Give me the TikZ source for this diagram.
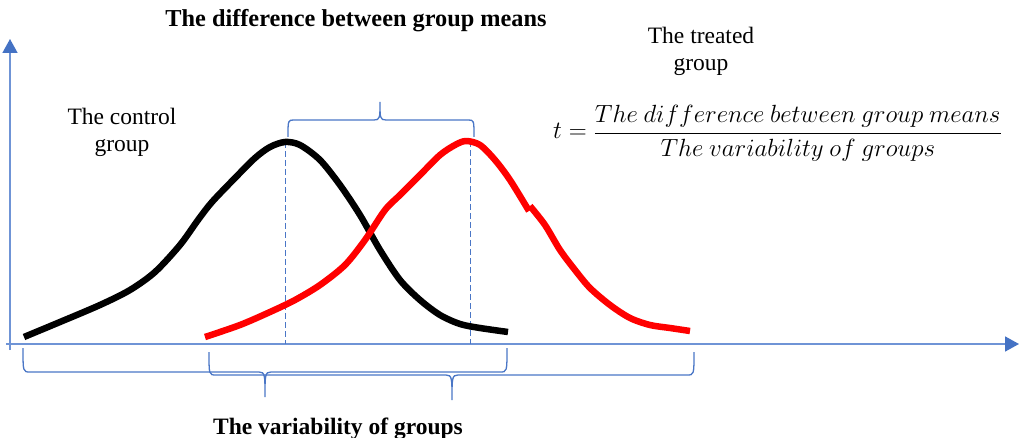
\documentclass[tikz,border=0pt]{standalone}
\usepackage{fontspec}
\setmainfont{Liberation Serif}
\usetikzlibrary{arrows.meta}
\definecolor{axisblue}{HTML}{6F94D6}
\definecolor{tipblue}{HTML}{4472C4}
\definecolor{braceblue}{HTML}{4A76C6}
\tikzset{
  axisline/.style={draw=axisblue, line width=1.6pt, -{Triangle[length=14pt,width=15pt,fill=tipblue,color=tipblue]}},
  bracepath/.style={draw=braceblue, line width=1.3pt},
  meanline/.style={draw=braceblue, line width=0.9pt, dash pattern=on 6pt off 3pt},
  curve/.style={line width=6.5pt, line join=round},
  lbl/.style={inner sep=0pt, align=center, font=\fontsize{23.5}{27}\selectfont},
  ttl/.style={inner sep=0pt, font=\fontsize{23.5}{27}\selectfont\bfseries}
}
\begin{document}
\begin{tikzpicture}[x=1pt,y=-1pt]
\useasboundingbox (0,0) rectangle (1019,438);
% axes
\coordinate (o) at (10,345);
\coordinate (ytop) at (10,39);
\coordinate (xl) at (6,344);
\coordinate (xr) at (1019,344);
\draw[axisline] (10,350) -- (ytop);
\draw[axisline] (xl) -- (xr);
% mean lines
\coordinate (m1) at (285,142);
\coordinate (m1b) at (285,344);
\coordinate (m2) at (470,141);
\coordinate (m2b) at (470,344);
\draw[meanline] (m1) -- (m1b);
\draw[meanline] (m2) -- (m2b);
% black curve
\draw[curve, black] plot[smooth, tension=0.5] coordinates {
 (24,337) (60,322) (100,305) (130,290) (155,272) (180,245) (198,220) (212,202) (235,178) (255,158) (270,147) (285,142) (300,145) (320,160) (340,185) (360,215) (380,250) (400,280) (420,300) (440,315) (460,324) (480,328) (508,332)};
% red curve
\draw[curve, red, line cap=butt] plot[smooth, tension=0.5] coordinates {
 (205,337) (240,325) (270,312) (295,300) (320,285) (345,265) (365,240) (385,210) (400,195) (420,175) (440,155) (455,145) (466,141) (480,145) (495,160) (510,180) (529,211)};
\draw[curve, red, line cap=butt] plot[smooth, tension=0.5] coordinates {
 (530,206) (545,225) (560,250) (575,270) (590,288) (610,305) (630,318) (650,325) (670,328) (690,331)};
% top brace
\draw[bracepath] (288,137) .. controls (288,120) and (288,120) .. (294,120) -- (374,120)
  .. controls (380,120) and (380,118) .. (380,102)
  .. controls (380,118) and (380,120) .. (386,120) -- (468,120)
  .. controls (474,120) and (474,120) .. (474,137);
% bottom brace 1
\draw[bracepath] (23,348) .. controls (23,372) and (23,372) .. (30,372) -- (259,372)
  .. controls (265,372) and (265,375) .. (265,397)
  .. controls (265,375) and (265,372) .. (271,372) -- (500,372)
  .. controls (507,372) and (507,372) .. (507,348);
% bottom brace 2
\draw[bracepath] (209,352) .. controls (209,375) and (209,375) .. (216,375) -- (446,375)
  .. controls (452,375) and (452,378) .. (452,400)
  .. controls (452,378) and (452,375) .. (458,375) -- (687,375)
  .. controls (694,375) and (694,375) .. (694,352);
% texts
\node[ttl, anchor=base, font=\fontsize{24.3}{27}\selectfont\bfseries] (title) at (356,27) {The difference between group means};
\node[ttl, anchor=base] (bottom) at (338,434) {The variability of groups};
\node[lbl] (control) at (122,132) {The control\\group};
\node[lbl] (treated) at (701,51) {The treated\\group};
\node[inner sep=0pt, anchor=base west, font=\fontsize{23}{27}\selectfont] (formula) at (553,139)
  {$t=\displaystyle\frac{The\ difference\ between\ group\ means}{The\ variability\ of\ groups}$};
\end{tikzpicture}
\end{document}
